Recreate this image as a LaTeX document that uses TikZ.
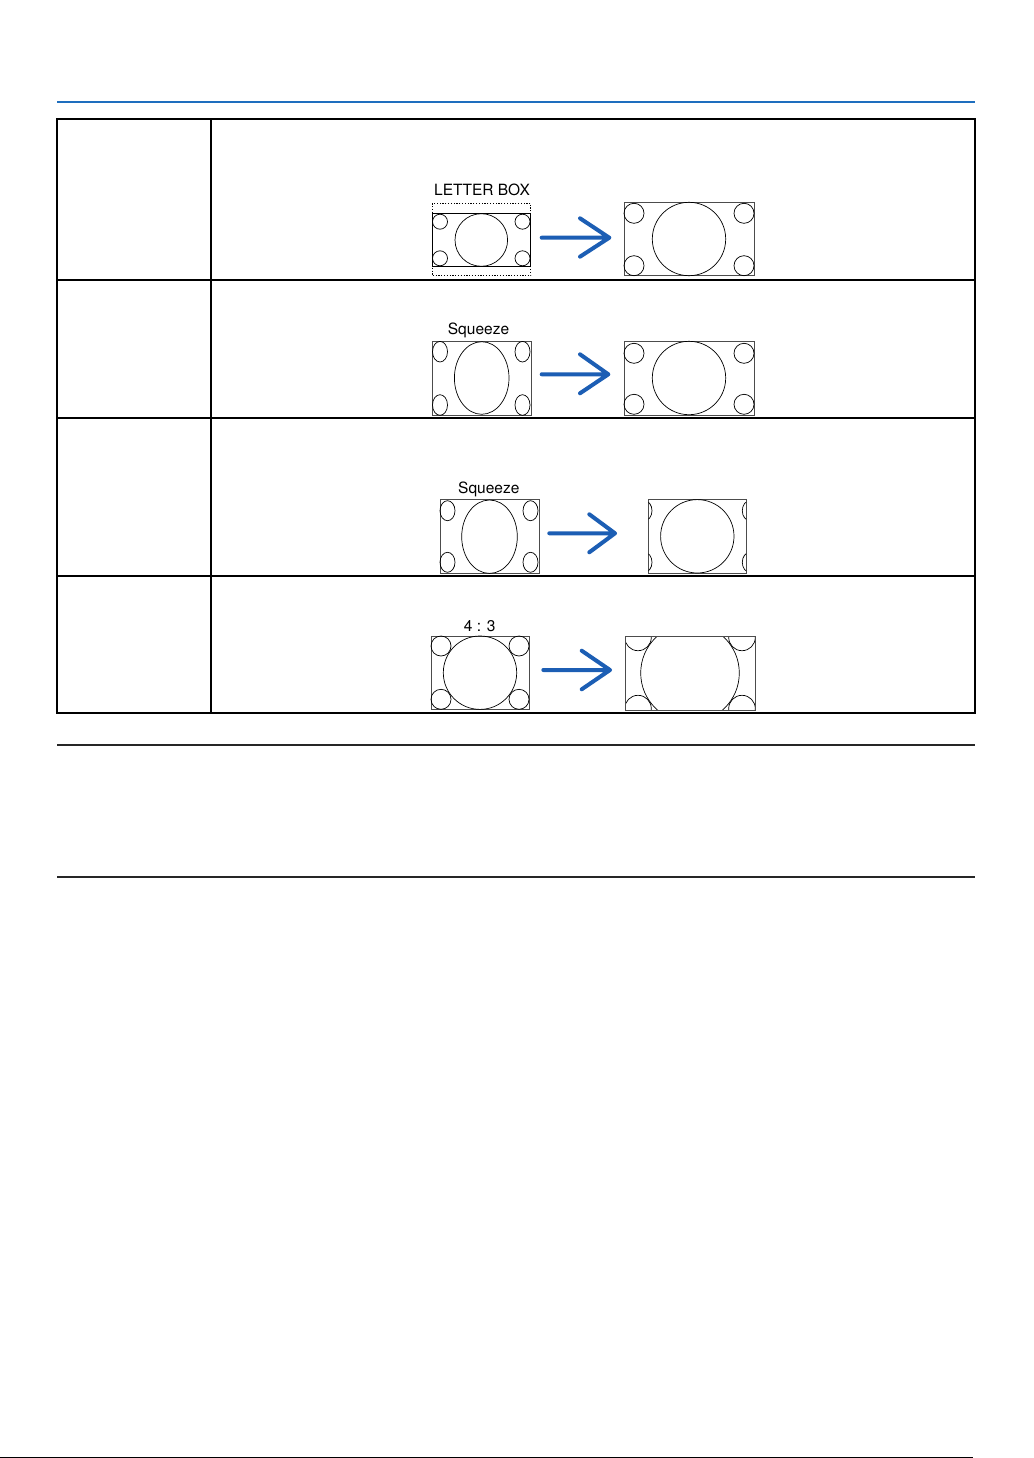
\documentclass[tikz,border=0pt]{standalone}
\usepackage{fontspec}
\setmainfont{TeX Gyre Heros}
\definecolor{ruleblue}{RGB}{30,110,190}
\definecolor{arrowblue}{RGB}{28,94,180}
\begin{document}
\begin{tikzpicture}[x=1pt,y=-1pt,
  tableline/.style={draw=black, line width=1.1pt},
  sepline/.style={draw=black!85, line width=1.1pt},
  pic/.style={draw=black, line width=0.7pt},
  picframe/.style={draw=black!70, line width=0.8pt},
  dotframe/.style={draw=black, line width=0.8pt, dash pattern=on 1.2pt off 1.6pt},
  arr/.style={draw=arrowblue, line width=4pt, line cap=round, line join=round},
  lab/.style={font=\fontsize{15.5}{18}\selectfont, anchor=base, inner sep=0pt}]
\useasboundingbox (0,0) rectangle (1033,1458);

% top blue rule
\draw[draw=ruleblue, line width=2pt] (57,102) -- (975,102);

% table
\draw[tableline] (57,119) rectangle (975,713);
\draw[tableline] (211,119) -- (211,713);
\draw[tableline] (57,280) -- (975,280);
\draw[tableline] (57,418) -- (975,418);
\draw[tableline] (57,576) -- (975,576);

% note rules
\draw[sepline] (57,745) -- (975,745);
\draw[sepline] (57,877) -- (975,877);

% bottom rule
\draw[draw=black, line width=1pt] (0,1457) -- (973,1457);

% ---------- Row 1: LETTER BOX ----------
\node[lab] (t1) at (482,195.5) {LETTER BOX};
\draw[dotframe] (432.3,203.3) rectangle (530.7,275.7);
\draw[pic] (432.3,213.3) rectangle (530.7,266.7);
\draw[pic] (481.3,240) circle (26.3);
\draw[pic] (440,221.7) circle (7.5);
\draw[pic] (522.5,221.7) circle (7.5);
\draw[pic] (440,258.3) circle (7.5);
\draw[pic] (522.5,258.3) circle (7.5);

\coordinate (a1s) at (541.7,237.7);
\coordinate (a1t) at (609.3,237.7);
\coordinate (a1u) at (580,218.3);
\coordinate (a1d) at (580,256.7);
\draw[arr] (a1s) -- (a1t) (a1u) -- (a1t) -- (a1d);

\draw[picframe] (624,202.3) rectangle (754.3,275.7);
\draw[pic] (689,239) circle (36.7);
\draw[pic] (634,213.3) circle (10);
\draw[pic] (744,213.3) circle (10);
\draw[pic] (634,265.7) circle (10);
\draw[pic] (744,265.7) circle (10);

% ---------- Row 2: Squeeze ----------
\node[lab] (t2) at (478.5,334.5) {Squeeze};
\draw[picframe] (432.3,341) rectangle (531,415);
\draw[pic] (481.7,378) ellipse [x radius=27.3, y radius=36.3];
\draw[pic] (440,351.7) ellipse [x radius=7.5, y radius=10.3];
\draw[pic] (522.5,351.7) ellipse [x radius=7.5, y radius=10.3];
\draw[pic] (440,405) ellipse [x radius=7.5, y radius=10.3];
\draw[pic] (522.5,405) ellipse [x radius=7.5, y radius=10.3];

\coordinate (a2s) at (541.7,374.3);
\coordinate (a2t) at (608.3,374.3);
\coordinate (a2u) at (580,354.3);
\coordinate (a2d) at (580,393.3);
\draw[arr] (a2s) -- (a2t) (a2u) -- (a2t) -- (a2d);

\draw[picframe] (624,341.7) rectangle (754.3,415);
\draw[pic] (689,378) circle (36.7);
\draw[pic] (634,353.3) circle (10);
\draw[pic] (744,353.3) circle (10);
\draw[pic] (634,404.3) circle (10);
\draw[pic] (744,404.3) circle (10);

% ---------- Row 3: Squeeze ----------
\node[lab] (t3) at (488.8,493.5) {Squeeze};
\draw[picframe] (440,499) rectangle (539,573.3);
\draw[pic] (489.5,536.7) ellipse [x radius=27.8, y radius=36.7];
\draw[pic] (447.5,510.7) ellipse [x radius=7.5, y radius=10];
\draw[pic] (530.5,510.7) ellipse [x radius=7.5, y radius=10];
\draw[pic] (447.5,562.3) ellipse [x radius=7.5, y radius=10];
\draw[pic] (530.5,562.3) ellipse [x radius=7.5, y radius=10];

\coordinate (a3s) at (549.3,533.3);
\coordinate (a3t) at (615,533.3);
\coordinate (a3u) at (589.3,514.3);
\coordinate (a3d) at (589.3,552.3);
\draw[arr] (a3s) -- (a3t) (a3u) -- (a3t) -- (a3d);

\draw[picframe] (648.3,499) rectangle (746,573.3);
\draw[pic] (697.3,536.3) circle (36.7);
\begin{scope}
  \clip (648.3,499) rectangle (746,573.3);
  \draw[pic] (644.5,510.7) ellipse [x radius=7.5, y radius=10];
  \draw[pic] (644.5,562.3) ellipse [x radius=7.5, y radius=10];
  \draw[pic] (749.8,510.7) ellipse [x radius=7.5, y radius=10];
  \draw[pic] (749.8,562.3) ellipse [x radius=7.5, y radius=10];
\end{scope}

% ---------- Row 4: 4:3 ----------
\node[lab] (t4) at (479.7,631) {4 : 3};
\draw[picframe] (431,636) rectangle (529,709.3);
\draw[pic] (480,672.7) circle (36.7);
\draw[pic] (441,646) circle (10);
\draw[pic] (519,646) circle (10);
\draw[pic] (441,699.3) circle (10);
\draw[pic] (519,699.3) circle (10);

\coordinate (a4s) at (543.3,670);
\coordinate (a4t) at (610,670);
\coordinate (a4u) at (581.7,650.7);
\coordinate (a4d) at (581.7,689.3);
\draw[arr] (a4s) -- (a4t) (a4u) -- (a4t) -- (a4d);

\begin{scope}
  \clip (625,636) rectangle (755,710);
  \draw[pic] (690,673) circle (49.3);
  \draw[pic] (638,637.4) circle (13.3);
  \draw[pic] (742,637.4) circle (13.3);
  \draw[pic] (638,708.6) circle (13.3);
  \draw[pic] (742,708.6) circle (13.3);
\end{scope}
\draw[picframe] (625,636) rectangle (755,710);

\end{tikzpicture}
\end{document}
